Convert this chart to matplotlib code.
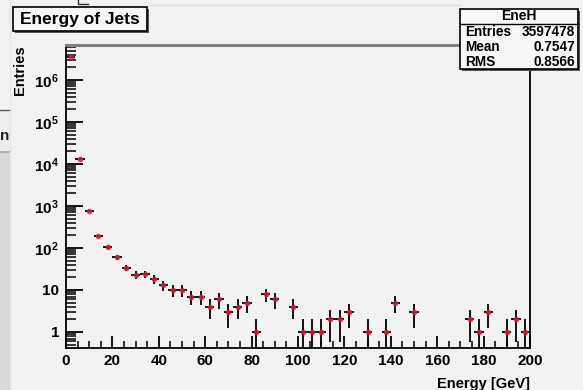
import numpy as np
import matplotlib
matplotlib.use("Agg")
import matplotlib.pyplot as plt
from matplotlib.patches import Rectangle
from matplotlib.lines import Line2D
from matplotlib.ticker import FixedLocator, FixedFormatter, LogLocator, NullFormatter, MultipleLocator

# ---- data (bin centers of 4 GeV bins, counts) ----
bin_centers = [2, 6, 10, 14, 18, 22, 26, 30, 34, 38, 42, 46, 50, 54, 58, 62, 66, 70, 74, 78,
               82, 86, 90, 98, 102, 106, 110, 114, 118, 122, 130, 138, 142, 150,
               174, 178, 182, 190, 194, 198]
counts = [3583000, 13000, 760, 195, 105, 61, 34, 23, 24, 18, 13, 10, 10, 7, 7, 4, 6, 3, 4, 5,
          1, 8, 6, 4, 1, 1, 1, 2, 2, 3, 1, 1, 5, 3,
          2, 1, 3, 1, 2, 1]
bin_half_width = 2
y_tick_values = [1, 10, 1e2, 1e3, 1e4, 1e5, 1e6]
y_tick_labels = ["1", "10", r"$10^{2}$", r"$10^{3}$", r"$10^{4}$", r"$10^{5}$", r"$10^{6}$"]
x_tick_values = [0, 20, 40, 60, 80, 100, 120, 140, 160, 180, 200]
title_text = "Energy of Jets"
stats_name = "EneH"
stats_rows = [("Entries", "3597478"), ("Mean", "0.7547"), ("RMS", "0.8566")]
x_label = "Energy [GeV]"
y_label = "Entries"

plt.rcParams['font.family'] = ['Liberation Sans', 'DejaVu Sans']
plt.rcParams['font.weight'] = 'bold'
plt.rcParams['mathtext.fontset'] = 'custom'
plt.rcParams['mathtext.rm'] = 'Liberation Sans:bold'
plt.rcParams['mathtext.it'] = 'Liberation Sans:bold'
plt.rcParams['mathtext.bf'] = 'Liberation Sans:bold'
plt.rcParams['mathtext.default'] = 'rm'

W, H = 583, 390
BG = "#f2f2f2"
fig = plt.figure(figsize=(W / 100, H / 100), dpi=100, facecolor=BG)

def fx(x):
    return x / W

def fy(y):
    return 1 - y / H

# ---- left strip artifacts (neighbouring window) ----
fig.add_artist(Rectangle((0, fy(390)), fx(9.5), fy(152) - fy(390), transform=fig.transFigure,
                         facecolor="#d9d9d9", edgecolor="none", zorder=0))
fig.add_artist(Rectangle((0, fy(152)), fx(9.5), fy(110) - fy(152), transform=fig.transFigure,
                         facecolor="#eeeeee", edgecolor="none", zorder=0))
fig.add_artist(Line2D([0, fx(9.5)], [fy(152), fy(152)], transform=fig.transFigure, color="#a8a8a8", lw=1.2))
fig.add_artist(Line2D([0, fx(9.5)], [fy(110), fy(110)], transform=fig.transFigure, color="#555555", lw=1.0))
fig.add_artist(Line2D([fx(10), fx(10)], [0, 1], transform=fig.transFigure, color="#e6e6e6", lw=1.0))
fig.text(fx(9.5), fy(136), "n", ha="right", va="center", fontsize=11, fontweight="bold", color="#222222")
# top artifacts
fig.add_artist(Line2D([fx(78), fx(78), fx(88)], [fy(0), fy(4), fy(4)], transform=fig.transFigure,
                      color="#333333", lw=1.0))
fig.add_artist(Line2D([fx(149), fx(460)], [fy(5), fy(5)], transform=fig.transFigure, color="#dddddd", lw=1.0))

# ---- axes ----
ax = fig.add_axes([fx(66), fy(348), fx(530) - fx(66), fy(45) - fy(348)])
ax.set_facecolor(BG)
ax.set_yscale("log")
ax.set_xlim(0, 200)
ax.set_ylim(0.416, 6.8e6)

c = np.array(counts, dtype=float)
err = np.sqrt(c)
lower = np.minimum(err, c - 1e-3)
ax.errorbar(bin_centers, c, xerr=bin_half_width, yerr=[lower, err], fmt="none",
            ecolor="black", elinewidth=1.3, capsize=0, zorder=3)
ax.plot(bin_centers, c, "o", ms=3.0, color="#d0203a", mec="#d0203a", zorder=4, alpha=0.8)

ax.yaxis.set_major_locator(FixedLocator(y_tick_values))
ax.yaxis.set_major_formatter(FixedFormatter(y_tick_labels))
ax.yaxis.set_minor_locator(LogLocator(base=10, subs=np.arange(2, 10), numticks=20))
ax.yaxis.set_minor_formatter(NullFormatter())
ax.xaxis.set_major_locator(FixedLocator(x_tick_values))
ax.xaxis.set_minor_locator(MultipleLocator(5))

ax.tick_params(axis="y", which="major", direction="in", length=12, width=1.3, labelsize=11, pad=5)
ax.tick_params(axis="y", which="minor", direction="in", length=7, width=1.1)
ax.tick_params(axis="x", which="major", direction="in", length=9, width=1.3, labelsize=11, pad=4)
ax.tick_params(axis="x", which="minor", direction="in", length=5, width=1.1)
for lab in ax.get_xticklabels() + ax.get_yticklabels():
    lab.set_fontweight("bold")

for s in ["left", "bottom", "right"]:
    ax.spines[s].set_color("black")
    ax.spines[s].set_linewidth(1.3)
ax.spines["top"].set_color("#808080")
ax.spines["top"].set_linewidth(2.2)

ax.set_xlabel(x_label, fontsize=10.5, fontweight="bold")
ax.xaxis.set_label_coords(1.0, -0.095)
ax.xaxis.label.set_ha("right")
ax.set_ylabel(y_label, fontsize=10.5, fontweight="bold")
ax.yaxis.set_label_coords(-0.085, 1.0)
ax.yaxis.label.set_ha("right")

# ---- title box ----
fig.add_artist(Rectangle((fx(15), fy(33)), fx(149) - fx(15), fy(9) - fy(33), transform=fig.transFigure,
                         facecolor="#555555", edgecolor="none", zorder=5))
fig.add_artist(Rectangle((fx(13), fy(31)), fx(147) - fx(13), fy(7) - fy(31), transform=fig.transFigure,
                         facecolor="#f7f7f7", edgecolor="black", lw=1.2, zorder=6))
fig.text(fx(80), fy(19.5), title_text, ha="center", va="center", fontsize=12.5,
         fontweight="bold", zorder=7)

# ---- stats box ----
fig.add_artist(Rectangle((fx(462), fy(71)), fx(580) - fx(462), fy(11) - fy(71), transform=fig.transFigure,
                         facecolor="#555555", edgecolor="none", zorder=5))
fig.add_artist(Rectangle((fx(460.5), fy(69)), fx(578) - fx(460.5), fy(9) - fy(69), transform=fig.transFigure,
                         facecolor="#f7f7f7", edgecolor="black", lw=1.2, zorder=6))
fig.add_artist(Line2D([fx(460.5), fx(578)], [fy(24), fy(24)], transform=fig.transFigure,
                      color="black", lw=1.0, zorder=7))
fig.text(fx(519), fy(16), stats_name, ha="center", va="center", fontsize=10, fontweight="bold", zorder=8)
row_y = [32, 47, 61.5]
for (k, v), yy in zip(stats_rows, row_y):
    fig.text(fx(465), fy(yy), k, ha="left", va="center", fontsize=9.8, fontweight="bold", zorder=8)
    fig.text(fx(575), fy(yy), v, ha="right", va="center", fontsize=9.8, fontweight="bold", zorder=8)

fig.savefig("out.png", dpi=100, facecolor=BG)
